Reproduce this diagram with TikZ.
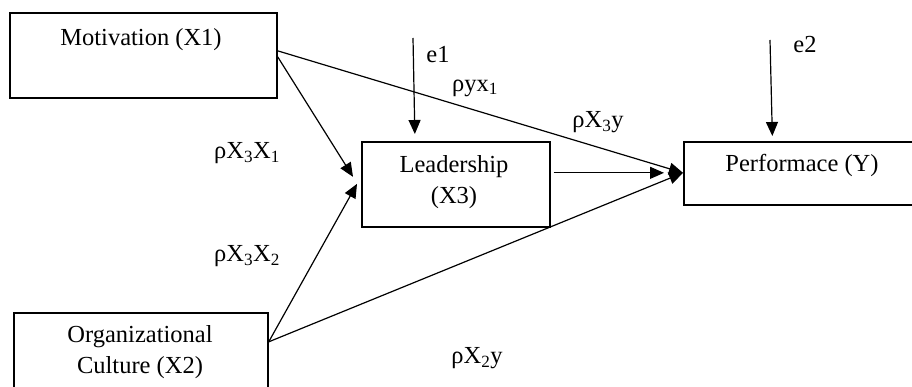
\documentclass[tikz,border=0pt]{standalone}
\usepackage{fontspec}
\setmainfont{Liberation Serif}
\usetikzlibrary{arrows.meta,calc}
\begin{document}
\begin{tikzpicture}[x=1pt,y=-1pt,
  box/.style={draw,line width=1.7pt,rectangle,inner sep=0pt},
  txt/.style={font=\fontsize{24.5}{31}\selectfont,align=center,inner sep=0pt},
  lbl/.style={font=\fontsize{24.5}{28}\selectfont,inner sep=0pt},
  arr/.style={line width=1.2pt,-{Triangle[length=14pt,width=12pt]}},
  ln/.style={line width=1.2pt}]
\useasboundingbox (0,0) rectangle (912,387);
\clip (0,0) rectangle (912,387);
% boxes
\node[box,minimum width=267pt,minimum height=85pt,anchor=north west] (mot) at (9,12) {};
\node[txt] (mottxt) at (141,40) {Motivation (X1)};
\node[box,minimum width=188pt,minimum height=85pt,anchor=north west] (lead) at (361,141) {};
\node[txt] (leadtxt) at (454,182) {Leadership\\(X3)};
\node[box,minimum width=245pt,minimum height=63pt,anchor=north west] (perf) at (683,141) {};
\node[txt] (perftxt) at (802,165) {Performace (Y)};
\node[box,minimum width=254pt,minimum height=90pt,anchor=north west] (org) at (13,312) {};
\node[txt] (orgtxt) at (140,352) {Organizational\\Culture (X2)};
% connectors
\coordinate (motA) at ([yshift=4.5pt]mot.east);
\coordinate (motB) at ([yshift=-1.5pt]mot.east);
\coordinate (orgA) at ([yshift=16pt]org.east);
\coordinate (perfIn) at ([yshift=0.5pt]perf.west);
\draw[arr] (motA) -- (perfIn);
\draw[arr] (motB) -- ([xshift=-8pt,yshift=7.5pt]lead.west);
\draw[arr] (orgA) -- ([xshift=-4pt,yshift=0.5pt]lead.west);
\draw[arr] (orgA) -- (perfIn);
\draw[arr] ([xshift=3pt,yshift=11.5pt]lead.east) -- ([xshift=-19pt,yshift=0.5pt]perf.west);
% error terms
\coordinate (e1top) at (413,38);
\coordinate (e2top) at (770,40);
\draw[arr] (e1top) -- ([xshift=-41pt,yshift=7pt]lead.north);
\draw[arr] (e2top) -- ([xshift=-34pt,yshift=5pt]perf.north);
\node[lbl] (e1) at (438,55) {e1};
\node[lbl] (e2) at (805,45) {e2};
% path labels
\node[lbl] (l1) at (475,88) {ρyx\textsubscript{1}};
\node[lbl] (l2) at (598,122) {ρX\textsubscript{3}y};
\node[lbl] (l3) at (247,153) {ρX\textsubscript{3}X\textsubscript{1}};
\node[lbl] (l4) at (247,256) {ρX\textsubscript{3}X\textsubscript{2}};
\node[lbl] (l5) at (477,358) {ρX\textsubscript{2}y};
\end{tikzpicture}
\end{document}
